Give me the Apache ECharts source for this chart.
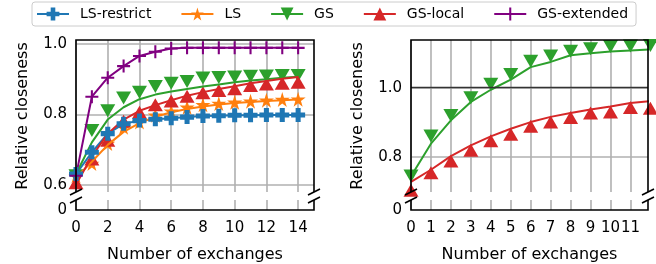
<!DOCTYPE html>
<html>
<head>
<meta charset="utf-8">
<script src="https://cdn.jsdelivr.net/npm/echarts@6/dist/echarts.min.js"></script>
<style>html,body{margin:0;padding:0;background:#fff}#main{width:656px;height:264px}</style>
</head>
<body>
<div id="main"></div>
<script>
var chartDom = document.getElementById('main');
var myChart = echarts.init(chartDom);
var option;

var names = ['LS-restrict', 'LS', 'GS', 'GS-local', 'GS-extended'];
var colors = ['#1f77b4', '#ff7f0e', '#2ca02c', '#d62728', '#800080'];

// left panel
var leftX = [0, 1, 2, 3, 4, 5, 6, 7, 8, 9, 10, 11, 12, 13, 14];
var lsRestrict = [0.63, 0.692, 0.745, 0.773, 0.782, 0.786, 0.789, 0.792, 0.795, 0.796, 0.797, 0.797, 0.798, 0.798, 0.798];
var ls = [0.625, 0.66, 0.717, 0.763, 0.778, 0.797, 0.809, 0.82, 0.827, 0.831, 0.834, 0.837, 0.84, 0.842, 0.843];
var lsFit = [0.62, 0.665, 0.713, 0.75, 0.775, 0.793, 0.806, 0.815, 0.822, 0.828, 0.832, 0.835, 0.838, 0.84, 0.842];
var gs = [0.625, 0.754, 0.81, 0.846, 0.863, 0.879, 0.888, 0.893, 0.903, 0.905, 0.906, 0.908, 0.909, 0.91, 0.91];
var gsFit = [0.63, 0.72, 0.785, 0.82, 0.843, 0.856, 0.865, 0.872, 0.879, 0.885, 0.891, 0.896, 0.9, 0.904, 0.907];
var gsLocal = [0.605, 0.673, 0.726, 0.78, 0.806, 0.827, 0.838, 0.851, 0.861, 0.868, 0.873, 0.882, 0.886, 0.888, 0.891];
var gsLocalFit = [0.6, 0.68, 0.745, 0.785, 0.81, 0.826, 0.84, 0.853, 0.863, 0.872, 0.88, 0.888, 0.895, 0.901, 0.906];
var gsExtended = [0.625, 0.85, 0.904, 0.937, 0.966, 0.978, 0.987, 0.989, 0.989, 0.989, 0.989, 0.989, 0.989, 0.989, 0.989];

// right panel
var rightX = [0, 1, 2, 3, 4, 5, 6, 7, 8, 9, 10, 11, 12];
var gsR = [0.746, 0.861, 0.92, 0.971, 1.01, 1.038, 1.076, 1.091, 1.105, 1.112, 1.118, 1.12, 1.121];
var gsFitR = [0.745, 0.839, 0.906, 0.959, 0.994, 1.023, 1.059, 1.074, 1.093, 1.099, 1.104, 1.107, 1.11];
var gsLocalR = [0.705, 0.755, 0.789, 0.82, 0.847, 0.866, 0.889, 0.901, 0.914, 0.927, 0.93, 0.943, 0.941];
var gsLocalFitR = [0.729, 0.764, 0.803, 0.834, 0.86, 0.882, 0.901, 0.916, 0.927, 0.937, 0.946, 0.956, 0.961];

var leftXTicks = [0, 2, 4, 6, 8, 10, 12, 14];
var leftYTicks = [0.6, 0.8, 1.0];
var rightXTicks = [0, 1, 2, 3, 4, 5, 6, 7, 8, 9, 10, 11];
var rightYTicks = [0.8, 1.0];
var lowerYTicks = [0];

var symP = 'path://M3.2,0h3.6v3.2h3.2v3.6h-3.2v3.2h-3.6v-3.2h-3.2v-3.6h3.2z';
var symStar = 'path://M50,0L61,35L98,35L68,57L79,91L50,70L21,91L32,57L2,35L39,35Z';
var symPlus = 'path://M4.2,0h1.6v10h-1.6zM0,4.2h10v1.6h-10z';
var triSize = [15, 13];

function pairs(xs, ys) {
  return xs.map(function (x, i) { return [x, ys[i]]; });
}

// grid boxes: [left, top, width, height]
var boxes = [
  [76, 40, 238, 152],
  [76, 200, 238, 10],
  [411, 40, 237, 152],
  [411, 200, 237, 10]
];

var font = 'DejaVu Sans';
var gridLine = { show: true, lineStyle: { color: '#b0b0b0', width: 1.6 } };

function xAx(gi, max, ticks, lower) {
  return {
    type: 'value', gridIndex: gi, min: 0, max: max,
    axisLine: { show: false },
    axisTick: { show: false, customValues: ticks },
    axisLabel: { show: lower, customValues: ticks, fontSize: 15, color: '#000', margin: 11, fontFamily: font },
    splitLine: gridLine,
    name: lower ? 'Number of exchanges' : '',
    nameLocation: 'middle', nameGap: 37,
    nameTextStyle: { fontSize: 16, color: '#000', fontFamily: font }
  };
}

function yAx(gi, min, max, ticks, upper) {
  return {
    type: 'value', gridIndex: gi, min: min, max: max,
    axisLine: { show: false },
    axisTick: { show: false, customValues: ticks },
    axisLabel: {
      customValues: ticks, fontSize: 15, color: '#000', margin: 9, fontFamily: font,
      formatter: function (v) { return v === 0 ? '0' : v.toFixed(1); }
    },
    splitLine: upper ? gridLine : { show: false },
    name: upper ? 'Relative closeness' : '',
    nameLocation: 'middle', nameGap: 45,
    nameTextStyle: { fontSize: 16, color: '#000', fontFamily: font }
  };
}

function markerSeries(ax, xs, ys, color, symbol, size, rotate) {
  return {
    type: 'scatter', xAxisIndex: ax, yAxisIndex: ax,
    data: pairs(xs, ys), symbol: symbol, symbolSize: size, symbolRotate: rotate || 0,
    itemStyle: { color: color, opacity: 1 }, clip: false, silent: true
  };
}

function lineSeries(name, ax, xs, ys, color, symbol, size, rotate, showSym) {
  return {
    name: name, type: 'line', xAxisIndex: ax, yAxisIndex: ax,
    data: pairs(xs, ys), symbol: symbol, symbolSize: size, symbolRotate: rotate || 0,
    showSymbol: showSym, showAllSymbol: true,
    itemStyle: { color: color, opacity: 1 },
    lineStyle: { color: color, width: 2 },
    animation: false, silent: true
  };
}

// spines and axis-break marks
var graphics = [];
boxes.forEach(function (b, i) {
  var l = b[0], t = b[1], r = b[0] + b[2], bt = b[1] + b[3];
  var upper = i % 2 === 0;
  var pts = upper ? [[l, bt], [l, t], [r, t], [r, bt]] : [[l, t], [l, bt], [r, bt], [r, t]];
  graphics.push({ type: 'polyline', z: 100, shape: { points: pts }, style: { stroke: '#000', lineWidth: 1.6, fill: null } });
  var yb = upper ? bt : t;
  [l, r].forEach(function (x) {
    graphics.push({ type: 'line', z: 100, shape: { x1: x - 6, y1: yb + 3, x2: x + 6, y2: yb - 3 }, style: { stroke: '#000', lineWidth: 1.6 } });
  });
});

var series = [
  lineSeries('LS-restrict', 0, leftX, lsRestrict, colors[0], symP, 14, 0, true),
  markerSeries(0, leftX, ls, colors[1], symStar, 15),
  lineSeries('LS', 0, leftX, lsFit, colors[1], symStar, 15, 0, false),
  markerSeries(0, leftX, gs, colors[2], 'triangle', triSize, 180),
  lineSeries('GS', 0, leftX, gsFit, colors[2], 'triangle', triSize, 180, false),
  markerSeries(0, leftX, gsLocal, colors[3], 'triangle', triSize),
  lineSeries('GS-local', 0, leftX, gsLocalFit, colors[3], 'triangle', triSize, 0, false),
  lineSeries('GS-extended', 0, leftX, gsExtended, colors[4], symPlus, 13, 0, true),
  markerSeries(2, rightX, gsR, colors[2], 'triangle', triSize, 180),
  lineSeries('GS', 2, rightX, gsFitR, colors[2], 'triangle', triSize, 180, false),
  markerSeries(2, rightX, gsLocalR, colors[3], 'triangle', triSize),
  lineSeries('GS-local', 2, rightX, gsLocalFitR, colors[3], 'triangle', triSize, 0, false)
];
series[9].markLine = {
  silent: true, symbol: 'none', label: { show: false },
  lineStyle: { color: '#333', width: 1.3, type: 'solid' },
  data: [{ yAxis: 1.0 }]
};

option = {
  animation: false,
  backgroundColor: '#fff',
  textStyle: { fontFamily: font },
  legend: {
    data: names,
    left: 32, top: 2,
    padding: [5, 8, 5, 4],
    itemWidth: 32, itemHeight: 16, itemGap: 29,
    borderColor: '#cccccc', borderWidth: 1, borderRadius: 3,
    backgroundColor: '#fff',
    textStyle: { fontSize: 14, color: '#000', fontFamily: font, padding: [0, 0, 0, 6] }
  },
  grid: boxes.map(function (b) {
    return { left: b[0], top: b[1], width: b[2], height: b[3], outerBoundsMode: 'none', containLabel: false };
  }),
  xAxis: [
    xAx(0, 15, leftXTicks, false),
    xAx(1, 15, leftXTicks, true),
    xAx(2, 11.88, rightXTicks, false),
    xAx(3, 11.88, rightXTicks, true)
  ],
  yAxis: [
    yAx(0, 0.579, 1.0113, leftYTicks, true),
    yAx(1, 0, 1, lowerYTicks, false),
    yAx(2, 0.700, 1.137, rightYTicks, true),
    yAx(3, 0, 1, lowerYTicks, false)
  ],
  graphic: graphics,
  series: series
};

option && myChart.setOption(option);
</script>
</body>
</html>
